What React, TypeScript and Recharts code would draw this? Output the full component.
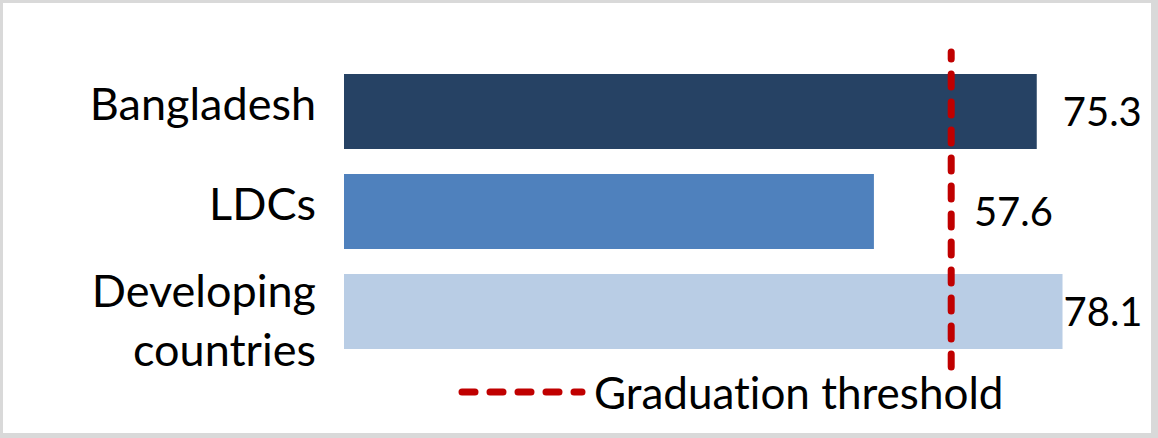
import React from 'react';
import { BarChart, Bar, XAxis, YAxis, Cell, LabelList, ReferenceLine } from 'recharts';

const categories = ['Bangladesh', 'LDCs', 'Developing countries'];
const values = [75.3, 57.6, 78.1];
const barColors = ['#264264', '#4F81BD', '#B9CDE5'];
const threshold = 66;
const legendLabel = 'Graduation threshold';

const chartData = categories.map((name, i) => ({ name, value: values[i] }));

const FONT = 'Lato, "Open Sans", sans-serif';
const RED = '#C00000';
// label nudges (px after bar end), Excel had them moved by hand
const labelGap = [26, 100, 1];

const CategoryTick = (props: any) => {
    const { x, y, payload } = props;
    const label: string = payload.value;
    const lines = label.length > 12 ? label.split(' ') : [label];
    const firstDy = lines.length > 1 ? -4 : 9;
    return (
        <text x={x} y={y} textAnchor="end" fontFamily={FONT} fontSize={45} fill="#000">
            {lines.map((line, i) => (
                <tspan key={i} x={x} dy={i === 0 ? firstDy : 59}>{line}</tspan>
            ))}
        </text>
    );
};

const ValueLabel = (props: any) => {
    const { x, y, width, height, value, index } = props;
    return (
        <text
            x={x + width + labelGap[index]}
            y={y + height / 2 + 14}
            fontFamily={FONT}
            fontSize={40}
            fill="#000"
        >
            {value}
        </text>
    );
};

const ThresholdLegend = () => (
    <div style={{ position: 'absolute', left: 458, top: 367, display: 'flex', alignItems: 'center' }}>
        <svg width={130} height={20}>
            <line x1={4} y1={10} x2={124} y2={10} stroke={RED} strokeWidth={7}
                strokeDasharray="13 15" strokeLinecap="round" />
        </svg>
        <span style={{ fontFamily: FONT, fontSize: 44, color: '#000', marginLeft: 6, lineHeight: '50px', fontVariantLigatures: 'none' }}>
            {legendLabel}
        </span>
    </div>
);

export default function App() {
    return (
        <div style={{ position: 'fixed', left: 0, top: 0, width: 1158, height: 438, background: '#d9d9d9' }}>
            <div style={{ position: 'absolute', left: 3, top: 3, width: 1148, height: 430, background: '#fff' }} />
            <div style={{ position: 'absolute', left: 0, top: 0 }}>
                <BarChart
                    layout="vertical"
                    width={1158}
                    height={438}
                    data={chartData}
                    margin={{ top: 52, right: 78, bottom: 71, left: 0 }}
                >
                    <XAxis type="number" domain={[0, 80]} hide />
                    <YAxis
                        type="category"
                        dataKey="name"
                        width={344}
                        axisLine={false}
                        tickLine={false}
                        tickSize={0}
                        tickMargin={28}
                        padding={{ top: 9, bottom: 6 }}
                        tick={<CategoryTick />}
                        interval={0}
                    />
                    <Bar dataKey="value" barSize={75} isAnimationActive={false}>
                        {chartData.map((d, i) => (
                            <Cell key={d.name} fill={barColors[i]} />
                        ))}
                        <LabelList dataKey="value" content={<ValueLabel />} />
                    </Bar>
                    <ReferenceLine
                        x={threshold}
                        stroke={RED}
                        strokeWidth={7}
                        strokeDasharray="13 15"
                        strokeLinecap="round"
                    />
                </BarChart>
            </div>
            <ThresholdLegend />
        </div>
    );
}
